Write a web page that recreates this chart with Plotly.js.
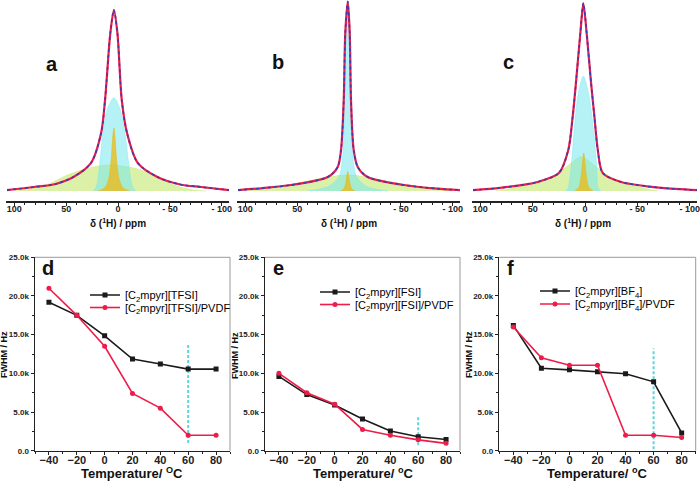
<!DOCTYPE html>
<html><head><meta charset="utf-8">
<script src="https://cdn.plot.ly/plotly-3.0.1.min.js"></script>
<style>html,body{margin:0;padding:0;background:#fff}#c{width:700px;height:481px}</style>
</head><body><div id="c"></div>
<script>
// ---------- Top panels: 1H NMR spectra (ppm, relative intensity) ----------
const aEnvPpm = [107, 81, 60, 43, 26, 16.3, 12.5, 7.4, 4, 0.6, -3.6, -8.7, -19, -38, -60, -80, -107];
const aEnvInt = [0.5, 2.2, 3.9, 7.7, 15.5, 32, 50.3, 87.3, 100, 87.3, 50.3, 32, 15.5, 7.7, 3.6, 2.2, 0.5];
const aCyanPpm = [24, 21, 17.3, 14.7, 10.6, 4, -2.2, -6.7, -9.9, -14, -17];
const aCyanInt = [0, 2.2, 17, 32, 44.8, 51.5, 44.8, 32, 17, 2.2, 0];
const aGreenPpm = [100, 93, 81, 70, 48, 28, 8.6, -15, -34, -55, -73, -85];
const aGreenInt = [0, 0.4, 1.6, 3, 9, 12.7, 14.4, 12.7, 9.2, 3, 0.5, 0];
const aYellowPpm = [19, 13, 9.3, 6.6, 5.3, 4, 2.7, 1.4, -1.3, -5, -11];
const aYellowInt = [0, 1.6, 6, 17, 28, 34.8, 28, 17, 6, 1.6, 0];

const bEnvPpm = [107, 85, 56, 20.5, 10.9, 7.7, 5.1, 3.6, 1.2, -0.7, -1.9, -4.5, -8.4, -18, -53, -85, -107];
const bEnvInt = [0.5, 1.5, 3.3, 7.7, 13.3, 22.7, 50.3, 87.3, 104.6, 87.3, 50.3, 22.7, 13.3, 7.7, 3.3, 1.3, 0.5];
const bCyanPpm = [40, 20, 9.6, 6, 4.5, 3, 1.2, -0.6, -1.5, -3.6, -7.2, -17, -37];
const bCyanInt = [0, 2.5, 8, 20, 45, 80, 100, 80, 45, 20, 8, 2.5, 0];
const bGreenPpm = [100, 91, 60, 36, 15, 1.5, -12, -31, -55, -91, -100];
const bGreenInt = [0, 0.5, 3, 6, 8.2, 8.8, 8.2, 6, 3, 0.5, 0];
const bYellowPpm = [8, 4.7, 3, 1.2, -0.6, -2.3, -5.6];
const bYellowInt = [0, 1.5, 5, 10.7, 5, 1.5, 0];

const cEnvPpm = [107, 81, 45.5, 25, 16, 11.8, 8.7, 4.5, 1.6, -1.6, -5.8, -9, -12.2, -17, -34.6, -73, -107];
const cEnvInt = [0.5, 1.7, 5, 9.9, 22.7, 41, 59.6, 87, 103.7, 87, 59.6, 41, 22.7, 9.9, 5, 1.7, 0.5];
const cCyanPpm = [18, 16, 13, 10.6, 7, 1.6, -4, -8.4, -11, -12.5, -15];
const cCyanInt = [0, 2, 15, 32, 52, 63.5, 52, 32, 15, 2, 0];
const cGreenPpm = [85, 74, 45, 26, 12, 3.8, -5, -18.6, -35, -60, -70];
const cGreenInt = [0, 1, 4.8, 9.7, 16, 19, 16, 9.7, 4.8, 1, 0];
const cYellowPpm = [10, 6, 4, 2.5, 1.2, 0, -1.6, -3.6, -7.6];
const cYellowInt = [0, 2, 7, 15, 21, 15, 7, 2, 0];

const ppmTicks = [100, 50, 0, -50, -100];
const ppmTickText = ['100', '50', '0', '- 50', '- 100'];

// ---------- Bottom panels: FWHM vs temperature ----------
const temps = [-40, -20, 0, 20, 40, 60, 80];
const dIL   = [19200, 17500, 14850, 11850, 11200, 10550, 10550];
const dPVDF = [21000, 17500, 13500, 7400, 5500, 2000, 2000];
const eIL   = [9600, 7250, 5900, 4100, 2550, 1800, 1450];
const ePVDF = [10000, 7500, 6000, 2750, 2000, 1400, 950];
const fIL   = [16200, 10650, 10450, 10200, 9950, 8900, 2300];
const fPVDF = [16000, 12000, 11050, 11050, 2000, 2000, 1700];
const markT = [60, 60];
const dMark = [1000, 13800];
const eMark = [700, 4400];
const fMark = [200, 13200];
const fwhmTicks = [0, 5000, 10000, 15000, 20000, 25000];
const fwhmTickText = ['0.0', '5.0k', '10.0k', '15.0k', '20.0k', '25.0k'];
const tempTicks = [-40, -20, 0, 20, 40, 60, 80];

const names = {
  d: ['[C<sub>2</sub>mpyr][TFSI]', '[C<sub>2</sub>mpyr][TFSI]/PVDF'],
  e: ['[C<sub>2</sub>mpyr][FSI]', '[C<sub>2</sub>mpyr][FSI]/PVDF'],
  f: ['[C<sub>2</sub>mpyr][BF<sub>4</sub>]', '[C<sub>2</sub>mpyr][BF<sub>4</sub>]/PVDF']
};

const W = 700, H = 481;
const FONT = 'Liberation Sans, Arial, sans-serif';
const px = v => v / W, py = v => 1 - v / H;

const GREEN = 'rgba(195,232,110,0.6)', CYAN = 'rgba(120,232,238,0.55)', YELLOW = 'rgba(232,188,30,0.8)';
const RED = '#ee1c48', BLUE = '#3a3cb0';

const traces = [];
function spectrum(ax, env, cyan, green, yellow) {
  const xa = 'x' + ax, ya = 'y' + ax;
  const comp = (p, col) => ({x: p[0], y: p[1], xaxis: xa, yaxis: ya, type: 'scatter', mode: 'lines',
    line: {shape: 'spline', smoothing: 0.8, width: 0.8, color: col}, fill: 'tozeroy', fillcolor: col, showlegend: false, hoverinfo: 'skip'});
  traces.push(comp(green, GREEN), comp(cyan, CYAN), comp(yellow, YELLOW));
  traces.push({x: env[0], y: env[1], xaxis: xa, yaxis: ya, type: 'scatter', mode: 'lines',
    line: {shape: 'spline', smoothing: 0.8, width: 2.2, color: RED}, showlegend: false});
  traces.push({x: env[0], y: env[1], xaxis: xa, yaxis: ya, type: 'scatter', mode: 'lines',
    line: {shape: 'spline', smoothing: 0.8, width: 1.6, color: BLUE, dash: 'dot'}, showlegend: false});
}
spectrum('', [aEnvPpm, aEnvInt], [aCyanPpm, aCyanInt], [aGreenPpm, aGreenInt], [aYellowPpm, aYellowInt]);
spectrum('2', [bEnvPpm, bEnvInt], [bCyanPpm, bCyanInt], [bGreenPpm, bGreenInt], [bYellowPpm, bYellowInt]);
spectrum('3', [cEnvPpm, cEnvInt], [cCyanPpm, cCyanInt], [cGreenPpm, cGreenInt], [cYellowPpm, cYellowInt]);

function fwhm(ax, il, pvdf, mark, nm, lg1, lg2) {
  const xa = 'x' + ax, ya = 'y' + ax;
  traces.push({x: markT, y: mark, xaxis: xa, yaxis: ya, type: 'scatter', mode: 'lines',
    line: {color: '#5cd6de', width: 2, dash: '3px,2px'}, showlegend: false, hoverinfo: 'skip'});
  traces.push({x: temps, y: il, xaxis: xa, yaxis: ya, type: 'scatter', mode: 'lines+markers', name: nm[0], legend: lg1,
    line: {color: '#1a1a1a', width: 1.6}, marker: {symbol: 'square', size: 5, color: '#1a1a1a'}});
  traces.push({x: temps, y: pvdf, xaxis: xa, yaxis: ya, type: 'scatter', mode: 'lines+markers', name: nm[1], legend: lg2,
    line: {color: RED, width: 1.6}, marker: {symbol: 'circle', size: 5, color: RED}});
}
fwhm('4', dIL, dPVDF, dMark, names.d, 'legend', 'legend2');
fwhm('5', eIL, ePVDF, eMark, names.e, 'legend3', 'legend4');
fwhm('6', fIL, fPVDF, fMark, names.f, 'legend5', 'legend6');

const topDom = [py(201), 1];
const botDom = [py(450.7), py(257.3)];
const specX = (d0, d1) => ({domain: [px(d0), px(d1)], range: [108, -107], showgrid: false, zeroline: false,
  showline: true, linecolor: '#222', linewidth: 2, ticks: 'outside', ticklen: 3, tickcolor: '#222',
  tickvals: ppmTicks, ticktext: ppmTickText, tickfont: {family: FONT, size: 9, weight: 'bold', color: '#222'},
  ticklabelstandoff: -5,
  minor: {dtick: 10, ticks: 'outside', ticklen: 2, tickcolor: '#222'}});
const specY = {domain: topDom, range: [-5.525, 105.52], visible: false};
const tX = (d0, d1) => ({domain: [px(d0), px(d1)], range: [-50, 90], showgrid: false, zeroline: false,
  showline: true, linecolor: '#222', linewidth: 1.5, ticks: 'outside', ticklen: 3, tickcolor: '#222',
  tickvals: tempTicks, tickfont: {family: FONT, size: 11, weight: 'bold', color: '#222'},
  ticklabelstandoff: -4,
  minor: {dtick: 10, ticks: 'outside', ticklen: 2, tickcolor: '#222'}});
const fY = () => ({domain: botDom, range: [0, 25000], showgrid: false, zeroline: false,
  showline: true, linecolor: '#222', linewidth: 1.5, ticks: 'outside', ticklen: 3, tickcolor: '#222',
  tickvals: fwhmTicks, ticktext: fwhmTickText, tickfont: {family: FONT, size: 8, weight: 'bold', color: '#222'},
  minor: {dtick: 2500, ticks: 'outside', ticklen: 2, tickcolor: '#222'}});

const legendAt = (x, y) => ({x: px(x - 40), y: py(y), xanchor: 'left', yanchor: 'middle', bgcolor: 'rgba(0,0,0,0)',
  font: {family: FONT, size: 11, color: '#000'}, itemwidth: 30, borderwidth: 0});

const frame = ax => [
  {type: 'line', xref: 'x' + ax + ' domain', yref: 'y' + ax + ' domain', x0: 0, x1: 1, y0: 1, y1: 1, line: {color: '#999', width: 1}},
  {type: 'line', xref: 'x' + ax + ' domain', yref: 'y' + ax + ' domain', x0: 1, x1: 1, y0: 0, y1: 1, line: {color: '#999', width: 1}}
];

const ann = (t, x, y, size, angle) => ({text: t, x: px(x), y: py(y), xref: 'paper', yref: 'paper', showarrow: false,
  xanchor: 'center', yanchor: 'middle', textangle: angle || 0,
  font: {family: FONT, size: size, weight: 'bold', color: '#111'}});

const ppmTitle = 'δ (<sup>1</sup>H) / ppm';
const layout = {
  width: W, height: H, margin: {l: 0, r: 0, t: 0, b: 0}, paper_bgcolor: '#fff', plot_bgcolor: 'rgba(0,0,0,0)',
  xaxis: Object.assign(specX(6, 229), {anchor: 'y'}), yaxis: Object.assign({}, specY, {anchor: 'x'}),
  xaxis2: Object.assign(specX(237, 460), {anchor: 'y2'}), yaxis2: Object.assign({}, specY, {anchor: 'x2'}),
  xaxis3: Object.assign(specX(472, 697), {anchor: 'y3'}), yaxis3: Object.assign({}, specY, {anchor: 'x3'}),
  xaxis4: Object.assign(tX(35, 230), {anchor: 'y4'}), yaxis4: Object.assign(fY(), {anchor: 'x4'}),
  xaxis5: Object.assign(tX(265, 460), {anchor: 'y5'}), yaxis5: Object.assign(fY(), {anchor: 'x5'}),
  xaxis6: Object.assign(tX(499.3, 695.7), {anchor: 'y6'}), yaxis6: Object.assign(fY(), {anchor: 'x6'}),
  legend: legendAt(125, 295), legend2: legendAt(125, 307.5),
  legend3: legendAt(355, 292), legend4: legendAt(355, 304.5),
  legend5: legendAt(575, 291), legend6: legendAt(575, 304),
  shapes: [...frame('4'), ...frame('5'), ...frame('6')],
  annotations: [
    ann('a', 52, 64, 20), ann('b', 278, 62, 20), ann('c', 508, 62, 20),
    ann('d', 48, 268, 20), ann('e', 278, 268, 20), ann('f', 510, 268, 20),
    ann(ppmTitle, 118, 223, 10), ann(ppmTitle, 349, 223, 10), ann(ppmTitle, 583, 223, 10),
    ann('Temperature/ <sup>O</sup>C', 132, 473, 13), ann('Temperature/ <sup>o</sup>C', 363, 473, 13),
    ann('Temperature/ <sup>o</sup>C', 597, 473, 13),
    ann('FWHM / Hz', 4, 355, 9, -90), ann('FWHM / Hz', 235, 355, 9, -90), ann('FWHM / Hz', 469, 355, 9, -90)
  ],
  showlegend: true
};

Plotly.newPlot('c', traces, layout, {staticPlot: true, displayModeBar: false});
</script></body></html>
